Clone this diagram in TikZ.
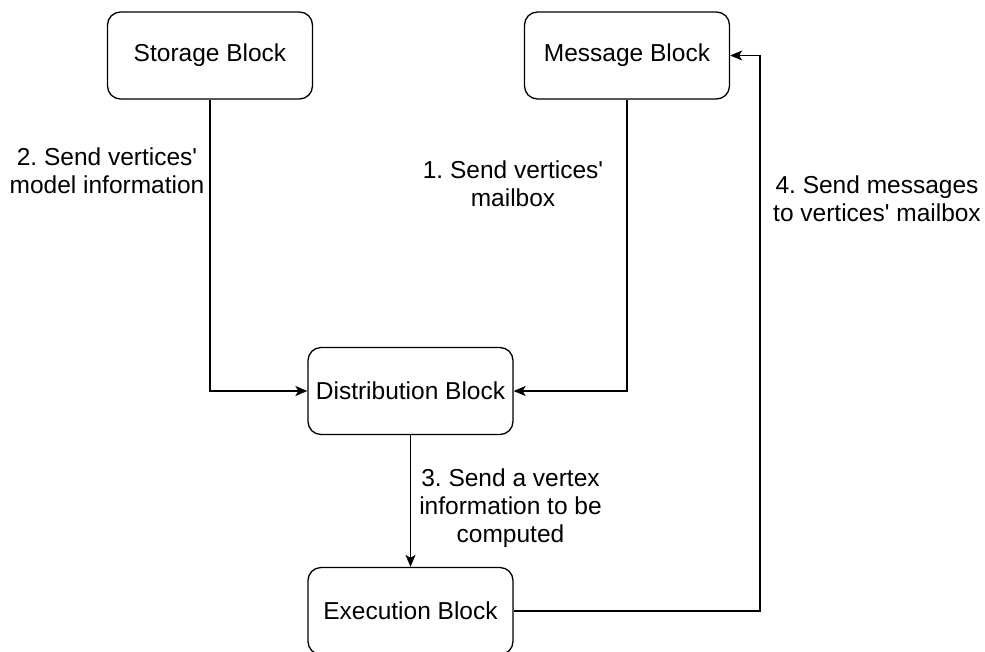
\documentclass[tikz,border=0pt]{standalone}
\usepackage{fontspec}
\setmainfont{Liberation Sans}
\usetikzlibrary{arrows.meta}
\frenchspacing
\newcommand{\apos}{\textquotesingle}
\tikzset{
  blockbox/.style={draw, line width=1.3pt, rounded corners=13pt, fill=white,
    minimum width=205pt, minimum height=87pt, inner sep=0pt,
    font=\fontsize{24.5}{28}\selectfont},
  lbl/.style={align=center, inner sep=0pt, font=\fontsize{24.5}{28}\selectfont},
  flow/.style={line width=1.3pt, -{Stealth[length=12pt,width=10pt,inset=3pt]}}
}
\begin{document}
\begin{tikzpicture}[x=1pt,y=-1pt]
  \useasboundingbox (0,0) rectangle (985,651);
  \clip (0,0) rectangle (985,651);

  % blocks
  \node[blockbox] (stor) at (210,55.5) {Storage Block};
  \node[blockbox] (msg)  at (627,55.5) {Message Block};
  \node[blockbox] (dist) at (410.5,391) {Distribution Block};
  \node[blockbox] (exec) at (410.5,611) {Execution Block};
  \coordinate (turn) at (760,0);

  % connectors
  \draw[flow] (stor.south) |- (dist.west);
  \draw[flow] (msg.south) |- (dist.east);
  \draw[flow] (dist.south) -- (exec.north);
  \draw[flow] (exec.east) -- (exec.east -| turn) |- (msg.east);

  % step labels
  \node[lbl] (l2) at (107,171) {2. Send vertices\apos\\model information};
  \node[lbl] (l1) at (513,184) {1. Send vertices\apos\\mailbox};
  \node[lbl] (l4) at (877,199) {4. Send messages\\to vertices\apos{} mailbox};
  \node[lbl] (l3) at (510.5,508) {3. Send a vertex\\information to be\\computed};
\end{tikzpicture}
\end{document}
